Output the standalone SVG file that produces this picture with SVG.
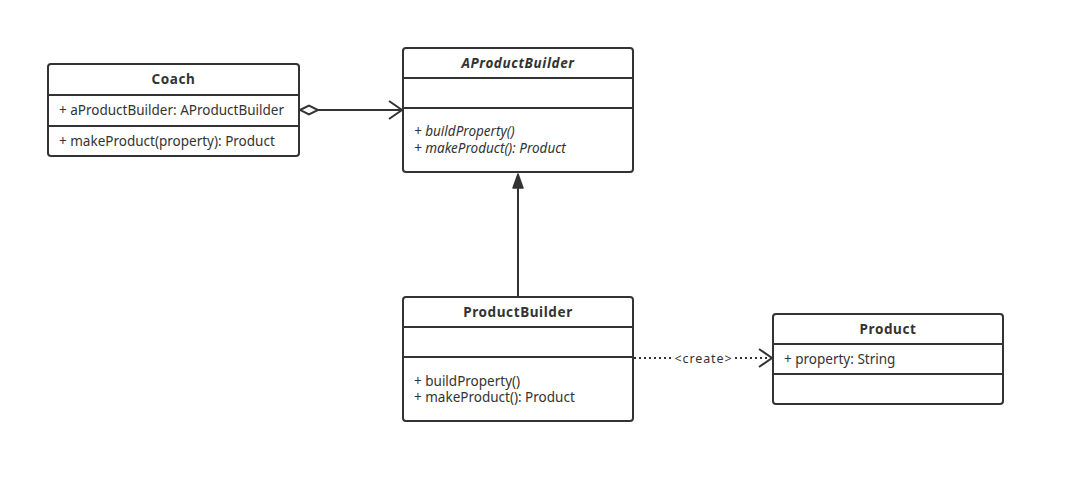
<svg xmlns="http://www.w3.org/2000/svg" width="1065" height="483" viewBox="0 0 1065 483">
<style>
.box{fill:#fff;stroke:#333;stroke-width:2}
.div{stroke:#333;stroke-width:2}
text{font-family:"Noto Sans","Open Sans","Liberation Sans",sans-serif;font-size:13.5px;fill:#333}
.t{font-weight:bold;text-anchor:middle;letter-spacing:0.6px}
.i{font-style:italic}
.edge{fill:none;stroke:#333;stroke-width:2}
</style>
<defs>
<marker id="open" markerWidth="16" markerHeight="20" refX="14" refY="10" orient="auto" markerUnits="userSpaceOnUse">
<path d="M1,1 L14,10 L1,19" fill="none" stroke="#333" stroke-width="2"/>
</marker>
<marker id="diamond" markerWidth="22" markerHeight="12" refX="1" refY="6" orient="auto" markerUnits="userSpaceOnUse">
<path d="M1,6 L10,1.5 L19,6 L10,10.5 Z" fill="#fff" stroke="#333" stroke-width="2"/>
</marker>
</defs>
<rect width="1065" height="483" fill="#fff"/>
<g id="connectors">
<path class="edge" d="M300,110 L402,110" marker-start="url(#diamond)" marker-end="url(#open)"/>
<path class="edge" d="M518,296 L518,186"/>
<path d="M518,174 L523,188 L513,188 Z" fill="#333" stroke="#333" stroke-width="1.5" stroke-linejoin="round"/>
<path class="edge" d="M634,358 L672,358" stroke-dasharray="2,3"/>
<path class="edge" d="M735,358 L772,358" stroke-dasharray="2,3" marker-end="url(#open)"/>
<text x="703.5" y="363" text-anchor="middle" style="font-size:12.5px;letter-spacing:0.9px">&lt;create&gt;</text>
</g>
<g id="coach">
<rect class="box" x="48" y="64" width="251" height="92" rx="3"/>
<line class="div" x1="48" y1="95" x2="299" y2="95"/>
<line class="div" x1="48" y1="126" x2="299" y2="126"/>
<text class="t" x="173.5" y="84">Coach</text>
<text x="59" y="115">+ aProductBuilder: AProductBuilder</text>
<text x="59" y="146">+ makeProduct(property): Product</text>
</g>
<g id="aproductbuilder">
<rect class="box" x="403" y="48" width="230" height="124" rx="3"/>
<line class="div" x1="403" y1="78" x2="633" y2="78"/>
<line class="div" x1="403" y1="108" x2="633" y2="108"/>
<text class="t i" x="518" y="68">AProductBuilder</text>
<text class="i" x="414" y="136">+ buildProperty()</text>
<text class="i" x="414" y="153">+ makeProduct(): Product</text>
</g>
<g id="productbuilder">
<rect class="box" x="403" y="297" width="230" height="124" rx="3"/>
<line class="div" x1="403" y1="327" x2="633" y2="327"/>
<line class="div" x1="403" y1="357" x2="633" y2="357"/>
<text class="t" x="518" y="317">ProductBuilder</text>
<text x="414" y="386">+ buildProperty()</text>
<text x="414" y="402">+ makeProduct(): Product</text>
</g>
<g id="product">
<rect class="box" x="773" y="314" width="230" height="90" rx="3"/>
<line class="div" x1="773" y1="344" x2="1003" y2="344"/>
<line class="div" x1="773" y1="374" x2="1003" y2="374"/>
<text class="t" x="888" y="334">Product</text>
<text x="784" y="364">+ property: String</text>
</g>
</svg>
